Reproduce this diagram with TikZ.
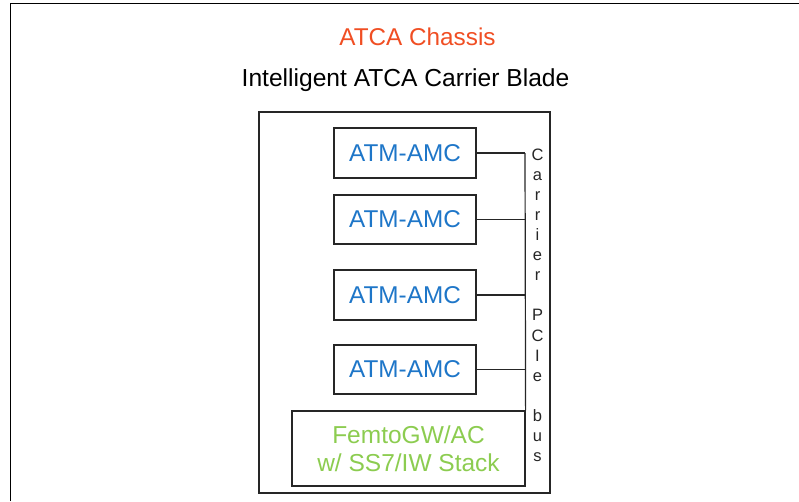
\documentclass[tikz,border=0pt]{standalone}
\usepackage{fontspec}
\setmainfont{Liberation Sans}
\usepackage{tikz}
\usepackage{xcolor}

\definecolor{chassisred}{RGB}{240,78,35}
\definecolor{amcblue}{RGB}{30,118,200}
\definecolor{femtogreen}{RGB}{140,204,80}

\begin{document}
\begin{tikzpicture}[x=1pt, y=-1pt, line width=1.2pt,
  amcbox/.style={draw=black!85, minimum width=142pt, minimum height=50pt, inner sep=0pt,
    text=amcblue, font=\fontsize{24.3}{28}\selectfont}]
\useasboundingbox (0,0) rectangle (799,501);
\draw[line width=1.6pt] (10.5,501) -- (10.5,3.5) -- (799,3.5);

\node[anchor=base, text=chassisred, font=\fontsize{24.3}{28}\selectfont] (chassis) at (417.5,45) {ATCA Chassis};
\node[anchor=base, font=\fontsize{24.6}{28}\selectfont] (blade) at (405.5,86) {Intelligent ATCA Carrier Blade};

\node[draw=black!85, minimum width=291pt, minimum height=381pt, inner sep=0pt] (board) at (404.5,302.5) {};

\node[amcbox] (amc1) at (405,153) {ATM-AMC};
\node[amcbox, minimum height=49pt] (amc2) at (405,219.5) {ATM-AMC};
\node[amcbox] (amc3) at (405,295) {ATM-AMC};
\node[amcbox, minimum height=49pt] (amc4) at (405,369.5) {ATM-AMC};
\node[draw=black!85, minimum width=233pt, minimum height=75pt, inner sep=0pt, align=center,
  text=femtogreen, font=\fontsize{24.5}{28.5}\selectfont] (femto) at (408.5,448.5) {FemtoGW/AC\\w/ SS7/IW Stack};

\coordinate (b1) at (525,153);
\coordinate (b2) at (525,219.5);
\coordinate (b3) at (525,295);
\coordinate (b4) at (525,369.5);

\draw[black!85] (amc1.east) -- (b1);
\draw[black!85] (amc2.east) -- (b2);
\draw[black!85] (amc3.east) -- (b3);
\draw[black!85] (amc4.east) -- (b4);
\draw[black!85] (b1) -- (femto.north east);

\node[anchor=north, align=center, inner sep=0pt, font=\fontsize{16.5}{20.1}\selectfont, text=black!85] (buslabel) at (537.5,148)
  {C\\a\\r\\r\\i\\e\\r\\[20.1pt]P\\C\\I\\e\\[20.1pt]b\\u\\s};
\end{tikzpicture}
\end{document}
